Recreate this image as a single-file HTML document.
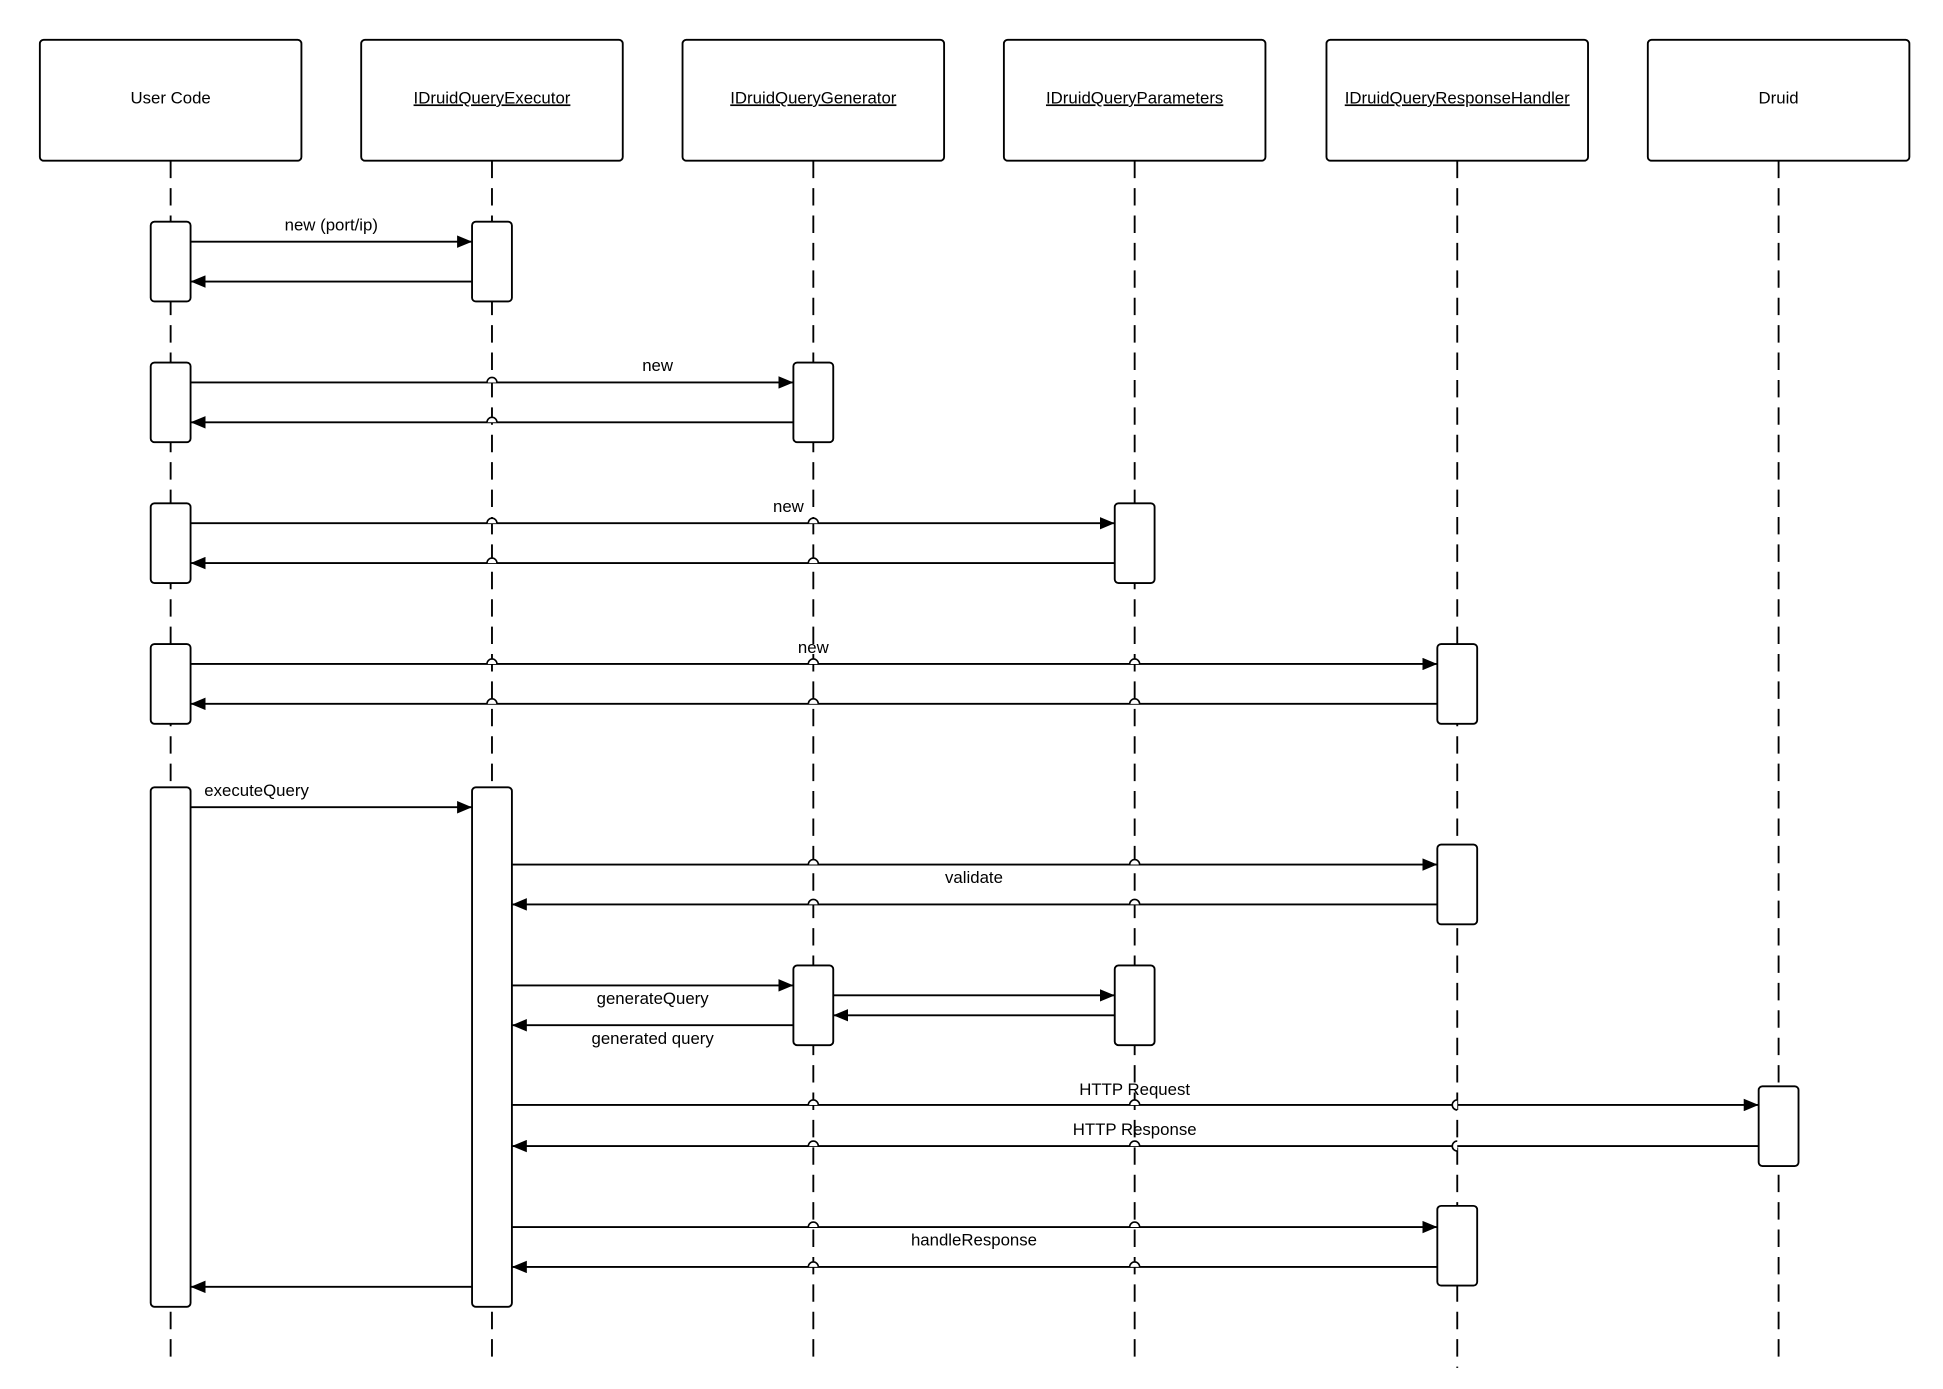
<!DOCTYPE html>
<html><head><meta charset="utf-8"><style>
html,body{margin:0;padding:0;background:#fff;}
svg{display:block;}
text{font-family:"Liberation Sans",Arial,sans-serif;font-size:13.5px;fill:#000;}
</style></head><body>
<svg width="1943" height="1389" viewBox="0 0 1560 1115" preserveAspectRatio="none" xmlns="http://www.w3.org/2000/svg">
<defs>
<marker id="a" markerWidth="12" markerHeight="10" refX="12" refY="5" orient="auto" markerUnits="userSpaceOnUse">
<path d="M0,0 L12,5 L0,10 z" fill="#000"/>
</marker>
</defs>
<g stroke="#000" stroke-width="1.5" fill="none" stroke-dasharray="14,8">
<line x1="137" y1="129" x2="137" y2="1090"/>
<line x1="395" y1="129" x2="395" y2="1090"/>
<line x1="653" y1="129" x2="653" y2="1090"/>
<line x1="911" y1="129" x2="911" y2="1090"/>
<line x1="1170" y1="129" x2="1170" y2="1098"/>
<line x1="1428" y1="129" x2="1428" y2="1090"/>
</g>
<g stroke="#000" stroke-width="1.5" fill="#fff">
<rect x="32" y="32" width="210" height="97" rx="3"/>
<rect x="290" y="32" width="210" height="97" rx="3"/>
<rect x="548" y="32" width="210" height="97" rx="3"/>
<rect x="806" y="32" width="210" height="97" rx="3"/>
<rect x="1065" y="32" width="210" height="97" rx="3"/>
<rect x="1323" y="32" width="210" height="97" rx="3"/>
</g>
<g text-anchor="middle">
<text x="137" y="83">User Code</text>
<text x="395" y="83" text-decoration="underline">IDruidQueryExecutor</text>
<text x="653" y="83" text-decoration="underline">IDruidQueryGenerator</text>
<text x="911" y="83" text-decoration="underline">IDruidQueryParameters</text>
<text x="1170" y="83" text-decoration="underline">IDruidQueryResponseHandler</text>
<text x="1428" y="83">Druid</text>
</g>
<g stroke="#000" stroke-width="1.5" fill="#fff">
<rect x="121" y="178" width="32" height="64" rx="3"/>
<rect x="379" y="178" width="32" height="64" rx="3"/>
<rect x="121" y="291" width="32" height="64" rx="3"/>
<rect x="637" y="291" width="32" height="64" rx="3"/>
<rect x="121" y="404" width="32" height="64" rx="3"/>
<rect x="895" y="404" width="32" height="64" rx="3"/>
<rect x="121" y="517" width="32" height="64" rx="3"/>
<rect x="1154" y="517" width="32" height="64" rx="3"/>
<rect x="121" y="632" width="32" height="417" rx="3"/>
<rect x="379" y="632" width="32" height="417" rx="3"/>
<rect x="1154" y="678" width="32" height="64" rx="3"/>
<rect x="637" y="775" width="32" height="64" rx="3"/>
<rect x="895" y="775" width="32" height="64" rx="3"/>
<rect x="1412" y="872" width="32" height="64" rx="3"/>
<rect x="1154" y="968" width="32" height="64" rx="3"/>
</g>
<g stroke="#000" stroke-width="1.5" fill="none" marker-end="url(#a)">
<line x1="153" y1="194" x2="379" y2="194"/>
<line x1="379" y1="226" x2="153" y2="226"/>
<line x1="153" y1="307" x2="637" y2="307"/>
<line x1="637" y1="339" x2="153" y2="339"/>
<line x1="153" y1="420" x2="895" y2="420"/>
<line x1="895" y1="452" x2="153" y2="452"/>
<line x1="153" y1="533" x2="1154" y2="533"/>
<line x1="1154" y1="565" x2="153" y2="565"/>
<line x1="153" y1="648" x2="379" y2="648"/>
<line x1="411" y1="694" x2="1154" y2="694"/>
<line x1="1154" y1="726" x2="411" y2="726"/>
<line x1="411" y1="791" x2="637" y2="791"/>
<line x1="637" y1="823" x2="411" y2="823"/>
<line x1="669" y1="799" x2="895" y2="799"/>
<line x1="895" y1="815" x2="669" y2="815"/>
<line x1="411" y1="887" x2="1412" y2="887"/>
<line x1="1412" y1="920" x2="411" y2="920"/>
<line x1="411" y1="985" x2="1154" y2="985"/>
<line x1="1154" y1="1017" x2="411" y2="1017"/>
<line x1="379" y1="1033" x2="153" y2="1033"/>
</g>
<g stroke="#000" stroke-width="1.3" fill="#fff">
<path d="M391,307 a4,4 0 0 1 8,0"/><path d="M391,339 a4,4 0 0 1 8,0"/>
<path d="M391,420 a4,4 0 0 1 8,0"/><path d="M391,452 a4,4 0 0 1 8,0"/>
<path d="M649,420 a4,4 0 0 1 8,0"/><path d="M649,452 a4,4 0 0 1 8,0"/>
<path d="M391,533 a4,4 0 0 1 8,0"/><path d="M391,565 a4,4 0 0 1 8,0"/>
<path d="M649,533 a4,4 0 0 1 8,0"/><path d="M649,565 a4,4 0 0 1 8,0"/>
<path d="M907,533 a4,4 0 0 1 8,0"/><path d="M907,565 a4,4 0 0 1 8,0"/>
<path d="M649,694 a4,4 0 0 1 8,0"/><path d="M649,726 a4,4 0 0 1 8,0"/>
<path d="M907,694 a4,4 0 0 1 8,0"/><path d="M907,726 a4,4 0 0 1 8,0"/>
<path d="M649,887 a4,4 0 0 1 8,0"/><path d="M649,920 a4,4 0 0 1 8,0"/>
<path d="M907,887 a4,4 0 0 1 8,0"/><path d="M907,920 a4,4 0 0 1 8,0"/>
<path d="M1170,883 a4,4 0 0 0 0,8"/><path d="M1170,916 a4,4 0 0 0 0,8"/>
<path d="M649,985 a4,4 0 0 1 8,0"/><path d="M649,1017 a4,4 0 0 1 8,0"/>
<path d="M907,985 a4,4 0 0 1 8,0"/><path d="M907,1017 a4,4 0 0 1 8,0"/>
</g>
<g text-anchor="middle">
<text x="266" y="185">new (port/ip)</text>
<text x="528" y="298">new</text>
<text x="633" y="411">new</text>
<text x="653" y="524">new</text>
<text x="206" y="639">executeQuery</text>
<text x="782" y="709">validate</text>
<text x="524" y="806">generateQuery</text>
<text x="524" y="838">generated query</text>
<text x="911" y="879">HTTP Request</text>
<text x="911" y="911">HTTP Response</text>
<text x="782" y="1000">handleResponse</text>
</g>
</svg>
</body></html>
